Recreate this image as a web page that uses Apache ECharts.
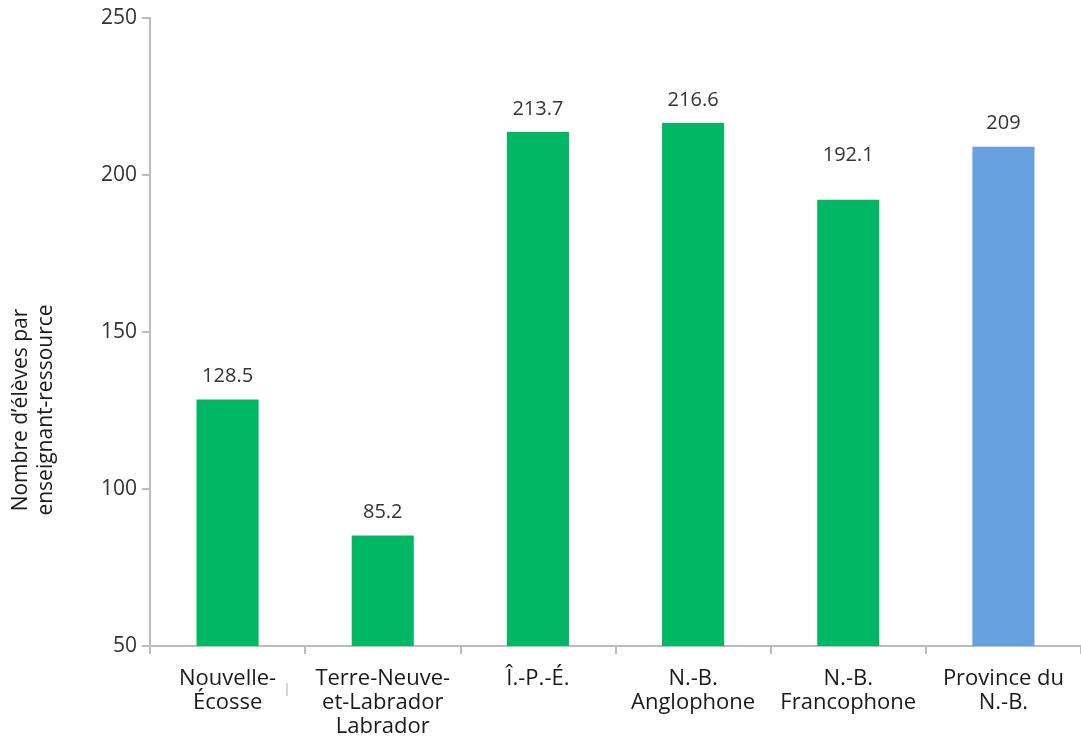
<!DOCTYPE html>
<html>
<head>
<meta charset="utf-8">
<script src="https://cdn.jsdelivr.net/npm/echarts@6/dist/echarts.min.js"></script>
<style>
  html, body { margin: 0; padding: 0; background: #fff; }
  #chart { width: 1081px; height: 739px; }
</style>
</head>
<body>
<div id="chart"></div>
<script>
// Régions comparées
const categories = [
  'Nouvelle-\nÉcosse',
  'Terre-Neuve-\net-Labrador\nLabrador',
  'Î.-P.-É.',
  'N.-B.\nAnglophone',
  'N.-B.\nFrancophone',
  'Province du\nN.-B.'
];
// Nombre d'élèves par enseignant-ressource
const values = [128.5, 85.2, 213.7, 216.6, 192.1, 209];
const barColors = ['#00b863', '#00b863', '#00b863', '#00b863', '#00b863', '#67a0de'];
// extra upward shift of individual value labels (px)
const labelLift = [0, 0, 0, 0, 22, 0];
const yTicks = { min: 50, max: 250, interval: 50 };
const yTitle = 'Nombre d\u2019élèves par\nenseignant-ressource';

const FONT = '"Open Sans", "Noto Sans", sans-serif';
const chart = echarts.init(document.getElementById('chart'));

chart.setOption({
  backgroundColor: '#ffffff',
  animation: false,
  grid: { left: 150, top: 18, bottom: 91, width: 940 },
  graphic: [
    {
      // vertical axis title, reading bottom to top
      type: 'text',
      x: 34,
      y: 410,
      rotation: Math.PI / 2,
      style: {
        text: yTitle,
        fill: '#1a1a1a',
        font: '21px ' + FONT,
        lineHeight: 25,
        align: 'center',
        verticalAlign: 'middle'
      }
    },
    {
      // small stray stroke under the first category
      type: 'line',
      shape: { x1: 287, y1: 683, x2: 287, y2: 696 },
      style: { stroke: '#c8c8c8', lineWidth: 1.5 }
    }
  ],
  xAxis: {
    type: 'category',
    data: categories,
    axisLine: { lineStyle: { color: '#bcbcbc', width: 2 } },
    axisTick: { show: true, length: 8, lineStyle: { color: '#bcbcbc', width: 2 } },
    axisLabel: {
      interval: 0,
      margin: 21,
      color: '#1a1a1a',
      fontFamily: FONT,
      fontSize: 22,
      lineHeight: 24
    }
  },
  yAxis: {
    type: 'value',
    min: yTicks.min,
    max: yTicks.max,
    interval: yTicks.interval,
    splitLine: { show: false },
    axisLine: { show: true, lineStyle: { color: '#bcbcbc', width: 2 } },
    axisTick: { show: true, length: 8, lineStyle: { color: '#bcbcbc', width: 2 } },
    axisLabel: { margin: 13, color: '#333333', fontFamily: FONT, fontSize: 21 }
  },
  series: [{
    type: 'bar',
    barWidth: '40%',
    data: values.map((v, i) => ({
      value: v,
      itemStyle: { color: barColors[i] },
      label: { offset: [0, -labelLift[i]] }
    })),
    label: {
      show: true,
      position: 'top',
      distance: 13,
      color: '#333333',
      fontFamily: FONT,
      fontSize: 20
    }
  }]
});
</script>
</body>
</html>
